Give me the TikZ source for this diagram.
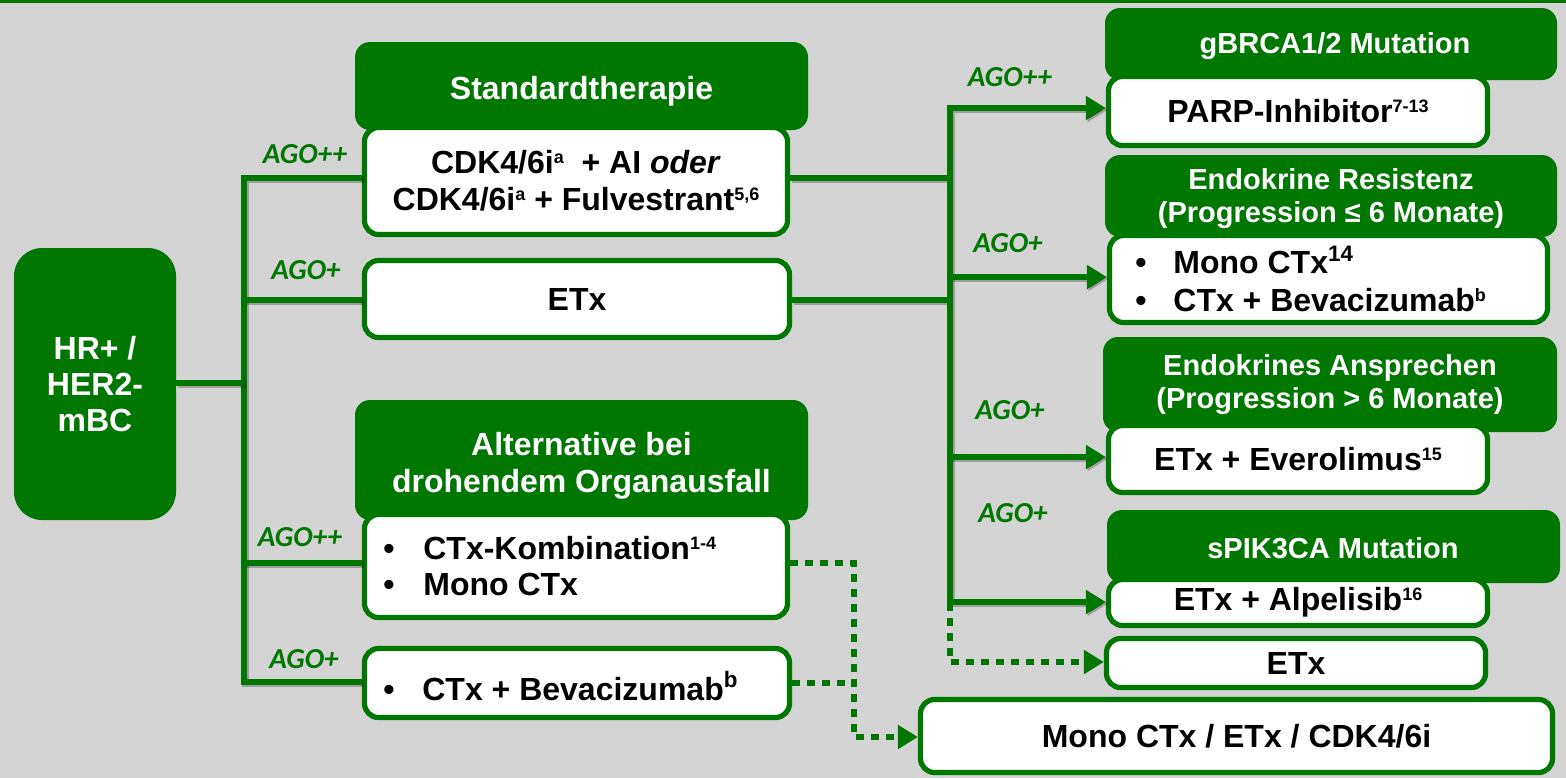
\documentclass[tikz,border=0pt]{standalone}
\usepackage{fontspec}
\setmainfont{Liberation Sans}
\newfontfamily\agofont{Carlito}
\usetikzlibrary{arrows.meta}
\definecolor{gr}{RGB}{0,119,0}
\definecolor{bg}{RGB}{212,212,212}
\newcommand\smsup[1]{\raisebox{5pt}{\fontsize{9}{9}\selectfont #1}}
\begin{document}
\begin{tikzpicture}[x=0.5pt,y=-0.5pt,
  hdr/.style={fill=gr, draw=none, rounded corners=7.5pt, inner sep=0pt},
  wbox/.style={fill=white, draw=gr, line width=2.6pt, rounded corners=7pt, inner sep=0pt, text=black, font=\fontsize{16}{18.5}\selectfont\bfseries, align=center},
  htxt/.style={text=white, font=\fontsize{14.5}{16.5}\selectfont\bfseries, align=center, inner sep=0pt},
  btxt/.style={text=black, font=\fontsize{16}{18}\selectfont\bfseries, align=left, inner sep=0pt, anchor=west},
  ago/.style={text=gr, font=\agofont\fontsize{14.5}{16}\selectfont\bfseries\itshape, inner sep=0pt},
  shd/.style={preaction={draw=black, draw opacity=0.25, line width=3.4pt, transform canvas={shift={(0.9pt,-0.9pt)}}}},
  conn/.style={draw=gr, line width=3pt, shd},
  dconn/.style={draw=gr, line width=3pt, dash pattern=on 4pt off 3.5pt},
  arr/.style={-{Triangle[length=10pt,width=11.5pt]}},
]
\useasboundingbox (0,0) rectangle (1566,778);
\fill[bg] (0,0) rectangle (1566,778);
\fill[gr] (0,0) rectangle (1566,3);

% left node
\node[hdr, rounded corners=14pt, minimum width=81pt, minimum height=136pt,
  text=white, font=\fontsize{16}{18}\selectfont\bfseries, align=center] (hr) at (95,384) {HR+ /\\HER2-\\mBC};

% headers
\node[hdr, minimum width=226.5pt, minimum height=44pt] (stdH) at (581.5,86) {};
\node[htxt, font=\fontsize{16}{18}\selectfont\bfseries] (stdHt) at (581.5,91) {Standardtherapie};
\node[hdr, minimum width=226.5pt, minimum height=60pt] (altH) at (581.5,460) {};
\node[htxt, font=\fontsize{16}{18.5}\selectfont\bfseries] (altHt) at (581.5,466) {Alternative bei\\drohendem Organausfall};
\node[hdr, minimum width=226pt, minimum height=36pt] (brcaH) at (1331,44) {};
\node[htxt] (brcaHt) at (1335,46) {gBRCA1/2 Mutation};
\node[hdr, minimum width=226pt, minimum height=41pt] (resH) at (1331,196) {};
\node[htxt] (resHt) at (1331,199) {Endokrine Resistenz\\(Progression ≤ 6 Monate)};
\node[hdr, minimum width=227pt, minimum height=47.5pt] (ansH) at (1330,384.5) {};
\node[htxt] (ansHt) at (1330,385) {Endokrines Ansprechen\\(Progression > 6 Monate)};
\node[hdr, minimum width=226.5pt, minimum height=36.5pt] (pikH) at (1333.5,546.5) {};
\node[htxt] (pikHt) at (1333,548) {sPIK3CA Mutation};

% white boxes
\node[wbox, minimum width=211.5pt, minimum height=53.5pt] (stdB) at (576,181)
  {CDK4/6i\smsup{a} \ + AI \textit{oder}\\CDK4/6i\smsup{a} + Fulvestrant\smsup{5,6}};
\node[wbox, minimum width=212.5pt, minimum height=38.5pt] (etxL) at (577,299) {ETx};
\node[wbox, minimum width=211.5pt, minimum height=51.5pt] (altB) at (576,566) {};
\node[btxt] (altBt) at (383,566) {\makebox[20pt][l]{•}CTx-Kombination\smsup{1-4}\\\makebox[20pt][l]{•}Mono CTx};
\node[wbox, minimum width=212.5pt, minimum height=34.5pt] (bevL) at (577,683) {};
\node[btxt] (bevLt) at (383,686) {\makebox[19.5pt][l]{•}CTx + Bevacizumab\textsuperscript{b}};

\node[wbox, minimum width=189.5pt, minimum height=34.5pt] (parp) at (1298,111) {PARP-Inhibitor\smsup{7-13}};
\node[wbox, minimum width=219pt, minimum height=43.5pt] (resB) at (1328.5,279) {};
\node[btxt, font=\fontsize{16}{19}\selectfont\bfseries] (resBt) at (1135,279) {\makebox[19pt][l]{•}Mono CTx\textsuperscript{14}\\\makebox[19pt][l]{•}CTx + Bevacizumab\smsup{b}};
\node[wbox, minimum width=189.5pt, minimum height=33.5pt] (evero) at (1298,459) {ETx + Everolimus\smsup{15}};
\node[wbox, minimum width=189.5pt, minimum height=23pt] (alpe) at (1298,602.5) {ETx + Alpelisib\smsup{16}};
\node[wbox, minimum width=189.5pt, minimum height=24.5pt] (etxR) at (1296,663) {ETx};
\node[wbox, minimum width=316pt, minimum height=36.5pt] (bottom) at (1236.5,736) {Mono CTx / ETx / CDK4/6i};

% AGO labels
\node[ago] (g1) at (305,154) {AGO++};
\node[ago] (g2) at (306,270) {AGO+};
\node[ago] (g3) at (300,537) {AGO++};
\node[ago] (g4) at (304,659) {AGO+};
\node[ago] (g5) at (1010,77) {AGO++};
\node[ago] (g6) at (1008,243) {AGO+};
\node[ago] (g7) at (1010,410) {AGO+};
\node[ago] (g8) at (1013,513) {AGO+};

% coordinates
\coordinate (tT) at (244,178);
\coordinate (tH) at (244,383);
\coordinate (tE) at (244,300);
\coordinate (tA) at (244,563);
\coordinate (tB) at (244,682);
\coordinate (rA) at (950,108);
\coordinate (rS) at (950,178);
\coordinate (rE) at (950,300);
\coordinate (rB) at (950,277);
\coordinate (rC) at (950,457);
\coordinate (rD) at (950,602);
\coordinate (rF) at (950,662);
\coordinate (dA) at (854,563);
\coordinate (dB) at (854,683);
\coordinate (dC) at (854,737);

% left connectors
\draw[conn] (stdB.west |- tT) -- (tT) -- (tB) -- (bevL.west |- tB);
\draw[conn] (hr.east |- tH) -- (tH);
\draw[conn] (tE) -- (etxL.west |- tE);
\draw[conn] (tA) -- (altB.west |- tA);

% right connectors
\draw[conn] (stdB.east |- rS) -- (rS);
\draw[conn] (etxL.east |- rE) -- (rE);
\draw[conn, {Triangle[length=10pt,width=11.5pt]}-{Triangle[length=10pt,width=11.5pt]}]
  (parp.west |- rA) -- (rA) -- (rD) -- (alpe.west |- rD);
\draw[conn, arr] (rB) -- (resB.west |- rB);
\draw[conn, arr] (rC) -- (evero.west |- rC);
\draw[dconn, arr] (stdB.east |- rS) -- (rS) -- (rF) -- (etxR.west |- rF);

% dotted lower connectors
\draw[dconn, arr] (altB.east |- dA) -- (dA) -- (dC) -- (bottom.west |- dC);
\draw[dconn] (bevL.east |- dB) -- (dB);
\end{tikzpicture}
\end{document}
